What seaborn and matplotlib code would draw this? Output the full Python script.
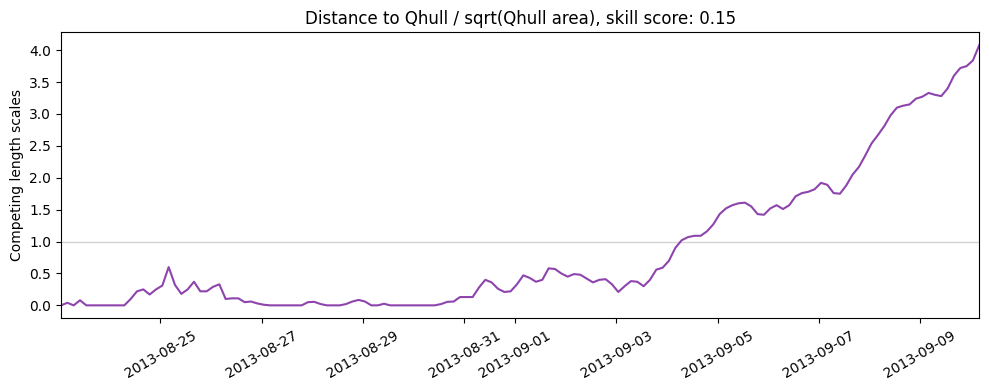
import matplotlib
matplotlib.use("Agg")
import matplotlib.pyplot as plt
import numpy as np
import pandas as pd
import seaborn as sns

# 3-hourly samples starting 2013-08-23 01:00
start = "2013-08-23 01:00"
freq = "3h"
scale_ratio = [
    0.00, 0.04, 0.00, 0.08, 0.00, 0.00, 0.00, 0.00, 0.00, 0.00,
    0.00, 0.10, 0.22, 0.25, 0.17, 0.25, 0.31, 0.60, 0.32, 0.18,
    0.25, 0.37, 0.22, 0.22, 0.29, 0.33, 0.10, 0.11, 0.11, 0.05,
    0.06, 0.03, 0.01, 0.00, 0.00, 0.00, 0.00, 0.00, 0.00, 0.05,
    0.055, 0.02, 0.00, 0.00, 0.00, 0.02, 0.06, 0.085, 0.06, 0.00,
    0.00, 0.025, 0.00, 0.00, 0.00, 0.00, 0.00, 0.00, 0.00, 0.00,
    0.02, 0.055, 0.06, 0.13, 0.13, 0.13, 0.28, 0.40, 0.36, 0.26,
    0.21, 0.22, 0.33, 0.47, 0.43, 0.37, 0.40, 0.58, 0.57, 0.50,
    0.45, 0.49, 0.48, 0.42, 0.36, 0.40, 0.41, 0.33, 0.21, 0.30,
    0.38, 0.37, 0.30, 0.40, 0.56, 0.59, 0.70, 0.90, 1.02, 1.07,
    1.09, 1.09, 1.16, 1.27, 1.43, 1.52, 1.57, 1.60, 1.61, 1.55,
    1.43, 1.42, 1.52, 1.57, 1.51, 1.57, 1.71, 1.76, 1.78, 1.82,
    1.92, 1.89, 1.76, 1.75, 1.88, 2.05, 2.17, 2.35, 2.54, 2.67,
    2.81, 2.98, 3.10, 3.13, 3.15, 3.24, 3.27, 3.33, 3.30, 3.28,
    3.40, 3.60, 3.72, 3.75, 3.84, 4.08,
]
skill_score = 0.15

times = pd.date_range(start, periods=len(scale_ratio), freq=freq)
df = pd.DataFrame({"time": times, "ratio": scale_ratio})

fig, ax = plt.subplots(figsize=(9.89, 3.9), dpi=100)
sns.lineplot(data=df, x="time", y="ratio", color="#8e44ad", linewidth=1.5, ax=ax)
ax.axhline(1.0, color="lightgray", linewidth=1, zorder=0)

ax.set_xlim(times[0], times[-1])
ax.set_xlabel("")
ax.set_ylabel("Competing length scales")
ax.set_title(f"Distance to Qhull / sqrt(Qhull area), skill score: {skill_score:.2f}")
plt.xticks(rotation=30)
plt.tight_layout(pad=0.7)
plt.savefig("out.png", dpi=100)
plt.close()
